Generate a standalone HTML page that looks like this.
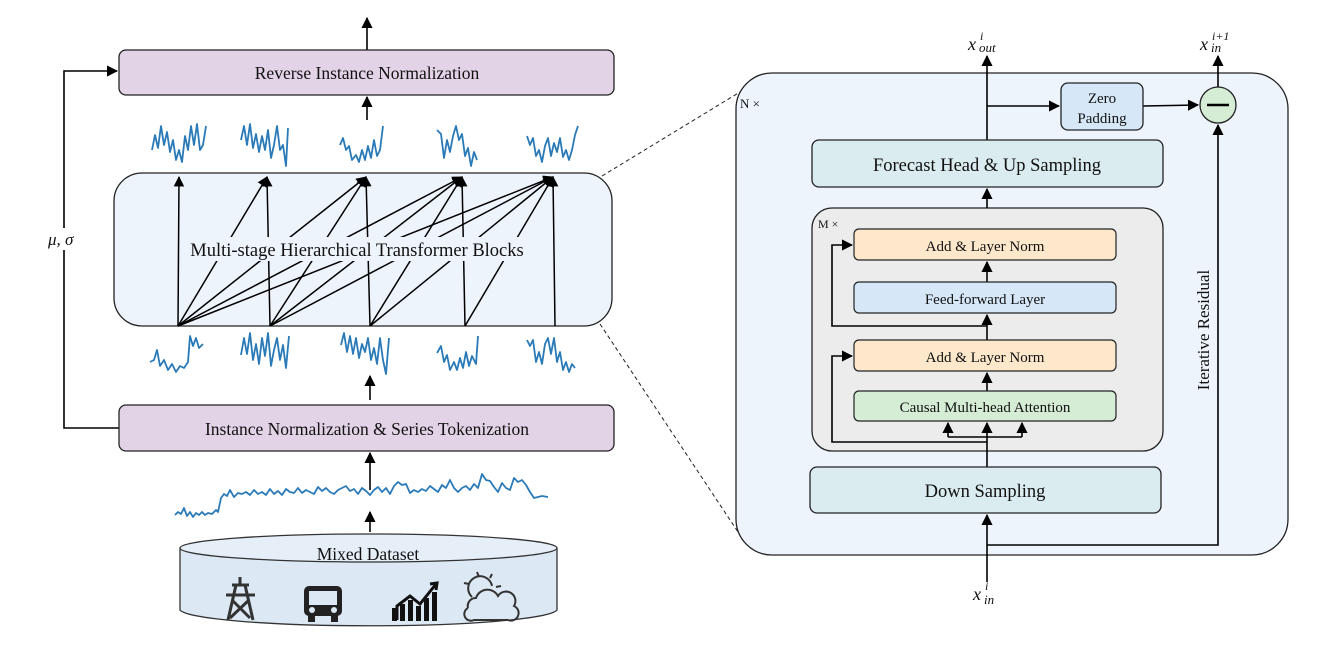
<!DOCTYPE html>
<html><head><meta charset="utf-8"><style>body{margin:0;background:#fff}svg{display:block}text{font-family:"Liberation Serif",serif;fill:#111}</style></head><body>
<svg width="1322" height="656" viewBox="0 0 1322 656" xmlns="http://www.w3.org/2000/svg">
<defs><marker id="a" viewBox="0 0 10 10" refX="9" refY="5" markerWidth="7" markerHeight="7" orient="auto-start-reverse"><path d="M0,0L10,5L0,10z" fill="#000"/></marker></defs>
<g stroke="#000" stroke-width="1.6" fill="none">
<line x1="367" y1="50" x2="367" y2="18" marker-end="url(#a)"/>
<line x1="367" y1="120" x2="367" y2="97" marker-end="url(#a)"/>
<line x1="370" y1="400" x2="370" y2="376" marker-end="url(#a)"/>
<line x1="370" y1="490" x2="370" y2="453" marker-end="url(#a)"/>
<line x1="370" y1="532" x2="370" y2="512" marker-end="url(#a)"/>
<polyline points="119,428 64,428 64,71 117,71" marker-end="url(#a)"/>
</g>
<rect x="46" y="228" width="36" height="22" fill="#fff"/>
<text x="48" y="245" font-size="17" font-style="italic">μ, σ</text>
<rect x="119" y="50" width="495" height="45" rx="7" fill="#e3d3e7" stroke="#222" stroke-width="1.3"/>
<text x="367" y="79" font-size="17.5" text-anchor="middle">Reverse Instance Normalization</text>
<rect x="119" y="405" width="495" height="46" rx="7" fill="#e3d3e7" stroke="#222" stroke-width="1.3"/>
<text x="367" y="435" font-size="17.5" text-anchor="middle">Instance Normalization &amp; Series Tokenization</text>
<rect x="114" y="173" width="498" height="153" rx="28" fill="#eef4fc" stroke="#222" stroke-width="1.3"/>
<g stroke="#000" stroke-width="1.5" fill="none">
<line x1="178" y1="326" x2="179" y2="177" marker-end="url(#a)"/>
<line x1="178" y1="326" x2="267" y2="177" marker-end="url(#a)"/>
<line x1="178" y1="326" x2="366" y2="177" marker-end="url(#a)"/>
<line x1="178" y1="326" x2="462" y2="177" marker-end="url(#a)"/>
<line x1="178" y1="326" x2="553" y2="177" marker-end="url(#a)"/>
<line x1="270" y1="326" x2="267" y2="177" marker-end="url(#a)"/>
<line x1="270" y1="326" x2="366" y2="177" marker-end="url(#a)"/>
<line x1="270" y1="326" x2="462" y2="177" marker-end="url(#a)"/>
<line x1="270" y1="326" x2="553" y2="177" marker-end="url(#a)"/>
<line x1="370" y1="326" x2="366" y2="177" marker-end="url(#a)"/>
<line x1="370" y1="326" x2="462" y2="177" marker-end="url(#a)"/>
<line x1="370" y1="326" x2="553" y2="177" marker-end="url(#a)"/>
<line x1="465" y1="326" x2="462" y2="177" marker-end="url(#a)"/>
<line x1="465" y1="326" x2="553" y2="177" marker-end="url(#a)"/>
<line x1="555" y1="326" x2="553" y2="177" marker-end="url(#a)"/>
</g>
<rect x="180" y="237" width="354" height="24" fill="#eef4fc"/>
<text x="357" y="256" font-size="18.5" text-anchor="middle">Multi-stage Hierarchical Transformer Blocks</text>
<g stroke="#2a7ab8" stroke-width="1.8" fill="none" stroke-linejoin="round">
<polyline points="152,150 155,135 158,148 161,126 164,145 167,132 170,152 173,140 176,160 179,150 182,162 185,136 188,150 191,126 194,145 197,124 200,150 203,145 206,126"/>
<polyline points="241,140 244,126 247,145 250,124 253,148 256,134 259,152 262,136 265,150 268,130 271,158 274,145 277,126 280,150 283,145 286,166 288,128"/>
<polyline points="340,145 343,138 346,150 349,146 352,160 356,155 359,162 362,150 365,160 368,146 371,158 374,140 377,156 380,150 383,126"/>
<polyline points="437,130 441,134 444,158 447,140 450,152 453,136 456,126 459,140 462,134 465,156 468,148 471,166 474,152 477,160"/>
<polyline points="527,136 530,145 533,138 536,156 539,150 542,162 545,146 548,138 551,156 554,143 557,152 560,138 563,157 566,150 569,160 572,150 575,135 578,126"/>
<polyline points="150,362 154,360 157,350 160,366 164,360 168,370 172,364 176,372 180,366 184,368 188,362 190,336 193,346 196,338 199,348 203,344"/>
<polyline points="241,355 244,338 247,354 250,333 253,360 256,344 259,364 262,338 265,356 268,333 271,366 274,350 277,338 280,360 283,345 286,368 289,336"/>
<polyline points="341,345 344,333 347,352 350,336 353,354 356,338 359,358 362,344 365,352 368,338 371,360 374,348 377,364 380,338 383,360 386,374 389,338"/>
<polyline points="437,353 441,346 444,362 447,355 450,370 454,362 457,370 460,358 463,368 466,352 469,366 472,356 476,364 478,336"/>
<polyline points="527,340 530,346 533,340 536,362 539,352 542,364 545,344 548,338 551,354 554,338 557,362 560,352 563,370 566,362 569,372 572,364 575,368"/>
<polyline points="175,515 178,512 181,514 184,508 187,516 190,512 193,517 196,513 199,515 202,512 205,515 208,513 212,514 216,510 218,512 221,498 224,494 227,496 230,490 234,497 238,493 242,494 246,492 250,495 254,490 258,494 262,492 266,495 270,489 274,494 278,491 282,495 286,489 290,492 294,493 298,488 302,493 306,490 310,492 314,494 318,487 322,491 326,488 330,492 334,494 338,490 342,488 346,486 350,491 354,489 358,494 362,488 366,491 370,495 374,490 378,487 382,492 386,488 390,494 394,486 398,482 402,485 406,484 410,493 414,490 418,492 422,489 426,491 430,486 434,489 438,492 442,485 446,488 450,480 454,488 458,492 462,488 466,486 470,490 474,484 478,488 482,474 486,480 490,481 494,487 498,492 502,483 506,488 510,490 514,478 518,482 522,480 526,485 530,492 534,498 538,497 542,496 548,497"/>
</g>
<path d="M180,548 L180,610 A189,17 0 0 0 557,610 L557,548" fill="#dce8f4" stroke="#333" stroke-width="1.3"/>
<ellipse cx="368.5" cy="548" rx="188.5" ry="14" fill="#e6eff8" stroke="#333" stroke-width="1.3"/>
<text x="368" y="560" font-size="17.5" text-anchor="middle">Mixed Dataset</text>
<g stroke="#333" stroke-width="3" fill="none">
<path d="M240,577 L240,585 M232,585 L249,585 M226,595 L255,595 M236,585 L228,620 M245,585 L253,620 M232,600 L250,618 M249,600 L230,618"/>
<rect x="304" y="586" width="38" height="30" rx="5" fill="#222" stroke="none"/>
<path d="M397,620 L397,606 L410,596 L420,604 L436,584 M430,584 L437,583 L436,590" stroke="#111"/>
<path d="M472,597 A12,12 0 1 1 492,586 M468,608 A8,8 0 0 1 476,598 A12,12 0 0 1 498,596 A8,8 0 0 1 514,606 A7,7 0 0 1 508,620 L474,620 A6,6 0 0 1 468,608 M477,572 L479,577 M492,574 L490,578 M464,583 L469,584 M501,586 L496,587" stroke-width="2"/>
</g>
<rect x="309" y="591" width="28" height="14" fill="#dce8f4"/>
<circle cx="312" cy="610" r="3" fill="#dce8f4"/><circle cx="334" cy="610" r="3" fill="#dce8f4"/>
<rect x="308" y="615" width="7" height="7" fill="#222"/><rect x="331" y="615" width="7" height="7" fill="#222"/>
<g fill="#111"><rect x="392" y="608" width="5" height="13"/><rect x="400" y="604" width="5" height="17"/><rect x="408" y="600" width="5" height="21"/><rect x="416" y="606" width="5" height="15"/><rect x="424" y="598" width="5" height="23"/><rect x="432" y="592" width="5" height="29"/></g>
<line x1="602" y1="176" x2="740" y2="92" stroke="#222" stroke-dasharray="4,3" stroke-width="1"/>
<line x1="600" y1="324" x2="738" y2="532" stroke="#222" stroke-dasharray="4,3" stroke-width="1"/>
<rect x="736" y="73" width="552" height="482" rx="36" fill="#eef4fc" stroke="#222" stroke-width="1.3"/>
<text x="740" y="108" font-size="13">N ×</text>
<rect x="812" y="208" width="351" height="243" rx="20" fill="#ececec" stroke="#222" stroke-width="1.3"/>
<text x="818" y="228" font-size="12">M ×</text>
<g stroke="#000" stroke-width="1.6" fill="none">
<line x1="987" y1="140" x2="987" y2="56" marker-end="url(#a)"/>
<line x1="987" y1="106" x2="1059" y2="106" marker-end="url(#a)"/>
<line x1="1143" y1="106" x2="1198" y2="105" marker-end="url(#a)"/>
<line x1="1218" y1="87" x2="1218" y2="56" marker-end="url(#a)"/>
<polyline points="987,545 1218,545 1218,125" marker-end="url(#a)"/>
<line x1="987" y1="582" x2="987" y2="515" marker-end="url(#a)"/>
<line x1="987" y1="208" x2="987" y2="189" marker-end="url(#a)"/>
<line x1="987" y1="467" x2="987" y2="423" marker-end="url(#a)"/>
<polyline points="948,437 1022,437"/>
<line x1="948" y1="437" x2="948" y2="423" marker-end="url(#a)"/>
<line x1="1022" y1="437" x2="1022" y2="423" marker-end="url(#a)"/>
<polyline points="987,442 832,442 832,356 852,356" marker-end="url(#a)"/>
<line x1="987" y1="391" x2="987" y2="373" marker-end="url(#a)"/>
<line x1="987" y1="340" x2="987" y2="315" marker-end="url(#a)"/>
<polyline points="987,326 832,326 832,245 852,245" marker-end="url(#a)"/>
<line x1="987" y1="282" x2="987" y2="262" marker-end="url(#a)"/>
</g>
<rect x="812" y="140" width="351" height="47" rx="7" fill="#daecf0" stroke="#222" stroke-width="1.3"/>
<text x="987" y="171" font-size="18.5" text-anchor="middle">Forecast Head &amp; Up Sampling</text>
<rect x="1061" y="83" width="82" height="47" rx="7" fill="#d6e8f8" stroke="#222" stroke-width="1.3"/>
<text x="1102" y="103" font-size="15" text-anchor="middle">Zero</text>
<text x="1102" y="123" font-size="15" text-anchor="middle">Padding</text>
<circle cx="1218" cy="105" r="18" fill="#d5ecd5" stroke="#222" stroke-width="1.3"/>
<line x1="1207" y1="105" x2="1229" y2="105" stroke="#000" stroke-width="2.5"/>
<rect x="854" y="229" width="262" height="31" rx="5" fill="#fde8cc" stroke="#222" stroke-width="1.2"/>
<text x="985" y="251" font-size="15" text-anchor="middle">Add &amp; Layer Norm</text>
<rect x="854" y="282" width="262" height="31" rx="5" fill="#d6e8f8" stroke="#222" stroke-width="1.2"/>
<text x="985" y="304" font-size="15" text-anchor="middle">Feed-forward Layer</text>
<rect x="854" y="340" width="262" height="31" rx="5" fill="#fde8cc" stroke="#222" stroke-width="1.2"/>
<text x="985" y="362" font-size="15" text-anchor="middle">Add &amp; Layer Norm</text>
<rect x="854" y="391" width="262" height="30" rx="5" fill="#d5ecd5" stroke="#222" stroke-width="1.2"/>
<text x="985" y="412" font-size="15" text-anchor="middle">Causal Multi-head Attention</text>
<rect x="810" y="467" width="351" height="46" rx="7" fill="#daecf0" stroke="#222" stroke-width="1.3"/>
<text x="985" y="497" font-size="18.5" text-anchor="middle">Down Sampling</text>
<text transform="translate(1209,330) rotate(-90)" font-size="17" text-anchor="middle">Iterative Residual</text>
<g font-style="italic">
<text x="968" y="50" font-size="18">x</text><text x="980" y="40" font-size="12">i</text><text x="979" y="52" font-size="13">out</text>
<text x="1200" y="50" font-size="18">x</text><text x="1212" y="40" font-size="12">i+1</text><text x="1211" y="52" font-size="13">in</text>
<text x="973" y="600" font-size="18">x</text><text x="985" y="590" font-size="12">i</text><text x="984" y="604" font-size="13">in</text>
</g>
</svg>
</body></html>
